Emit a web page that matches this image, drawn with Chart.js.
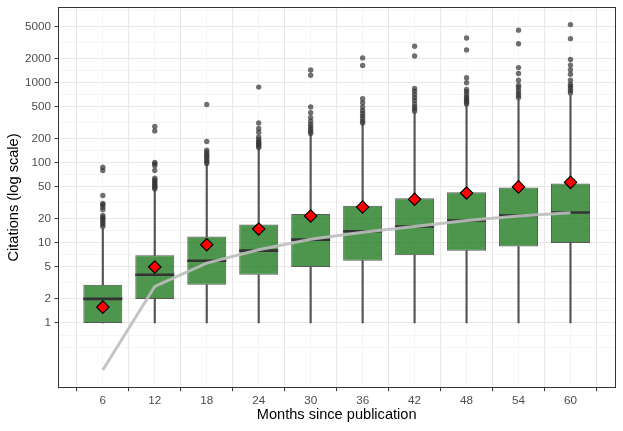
<!DOCTYPE html>
<html>
<head>
<meta charset="utf-8">
<script src="https://cdn.jsdelivr.net/npm/chart.js@4"></script>
<style>
html, body { margin: 0; padding: 0; background: #fff; }
#wrap { width: 623px; height: 431px; }
</style>
</head>
<body>
<div id="wrap"><canvas id="citeChart"></canvas></div>
<script>
// box statistics per month
const months = [6, 12, 18, 24, 30, 36, 42, 48, 54, 60];
const lowWhisker = [1, 1, 1, 1, 1, 1, 1, 1, 1, 1];
const q1 = [1, 2, 3, 4, 5, 6, 7, 8, 9, 10];
const medians = [2, 4, 6, 8, 11, 14, 16, 19, 22, 24];
const q3 = [3, 7, 12, 17, 23, 29, 36, 43, 49, 55];
const upperWhisker = [15, 45, 95, 150, 225, 305, 420, 520, 610, 690];
const means = [1.58, 5.0, 9.5, 14.9, 21.7, 28, 35, 42, 50, 57];
const trend = [0.26, 2.86, 5.6, 8.2, 11.1, 13.6, 16, 19, 21.7, 23.8];
const outliers = [
    [16, 17, 18, 19, 20, 21, 22, 26, 28, 30, 31, 39, 80, 88],
    [47, 49, 51, 53, 56, 58, 61, 64, 80, 92, 97, 101, 250, 284],
    [98, 103, 108, 115, 121, 127, 135, 144, 184, 533],
    [155, 162, 170, 178, 183, 195, 210, 240, 268, 314, 880],
    [232, 245, 260, 280, 300, 330, 366, 420, 497, 1237, 1440],
    [314, 330, 358, 385, 414, 450, 497, 560, 631, 1640, 2036],
    [440, 470, 497, 540, 600, 650, 710, 780, 845, 2150, 2840],
    [540, 570, 600, 630, 660, 710, 770, 820, 995, 1150, 2560, 3600],
    [650, 690, 740, 800, 870, 930, 1070, 1300, 1540, 3060, 4520],
    [744, 790, 845, 900, 955, 1070, 1273, 1450, 1655, 1940, 3540, 5300]
];

const xTicks = [6, 12, 18, 24, 30, 36, 42, 48, 54, 60];
const xMinorTicks = [3, 9, 15, 21, 27, 33, 39, 45, 51, 57, 63];
const yTicks = [1, 2, 5, 10, 20, 50, 100, 200, 500, 1000, 2000, 5000];
const yMinorTicks = [0.5, 0.708, 1.414, 3.162, 7.07, 14.14, 31.62, 70.7, 141.4, 316.2, 707, 1414, 3162, 7906];

const xMin = 0.825, xMax = 65.175;
const yMin = 0.156, yMax = 8710;

const pts = arr => months.map((m, i) => ({x: m, y: arr[i]}));
const outlierPoints = [];
outliers.forEach((list, i) => list.forEach(v => outlierPoints.push({x: months[i], y: v})));

// keep the chart area where the reference has it: no label overflow padding
const noPad = s => { s.paddingTop = 0; s.paddingBottom = 0; s.paddingLeft = 0; s.paddingRight = 0; };

Chart.defaults.font.family = '"Liberation Sans", Arial, Helvetica, sans-serif';

const ctxCite = document.getElementById('citeChart');

new Chart(ctxCite, {
    type: 'bar',
    data: {
        datasets: [
            {
                type: 'line',
                label: 'Mean',
                data: pts(means),
                showLine: false,
                pointStyle: 'rectRot',
                pointRadius: 6.2,
                pointBackgroundColor: '#ff0000',
                pointBorderColor: '#000000',
                pointBorderWidth: 1.2,
                xAxisID: 'x', yAxisID: 'y',
                order: 1
            },
            {
                type: 'line',
                label: 'Trend',
                data: pts(trend),
                borderColor: 'rgba(190,190,190,0.9)',
                borderWidth: 3,
                pointRadius: 0,
                tension: 0,
                xAxisID: 'x', yAxisID: 'y',
                order: 2
            },
            {
                type: 'line',
                label: 'Median',
                data: pts(medians),
                showLine: false,
                pointStyle: 'line',
                pointRadius: 19.5,
                pointBorderColor: '#333333',
                pointBorderWidth: 2.6,
                xAxisID: 'x', yAxisID: 'y',
                order: 3
            },
            {
                type: 'bar',
                label: 'Box',
                data: months.map((m, i) => ({x: m, y: [q1[i], q3[i]]})),
                backgroundColor: 'rgba(10,110,10,0.72)',
                borderColor: 'rgba(51,51,51,0.8)',
                borderWidth: 1,
                borderSkipped: false,
                grouped: false,
                categoryPercentage: 1,
                barPercentage: 0.75,
                xAxisID: 'x', yAxisID: 'y',
                order: 4
            },
            {
                type: 'line',
                label: 'Outliers',
                data: outlierPoints,
                showLine: false,
                pointRadius: 2.7,
                pointBackgroundColor: 'rgba(51,51,51,0.7)',
                pointBorderWidth: 0,
                xAxisID: 'x', yAxisID: 'y',
                order: 5
            },
            {
                type: 'bar',
                label: 'Upper whisker',
                data: months.map((m, i) => ({x: m, y: [q3[i], upperWhisker[i]]})),
                backgroundColor: '#555555',
                barThickness: 1.5,
                grouped: false,
                xAxisID: 'x', yAxisID: 'y',
                order: 6
            },
            {
                type: 'bar',
                label: 'Lower whisker',
                data: months.map((m, i) => ({x: m, y: [lowWhisker[i], q1[i]]})),
                backgroundColor: '#555555',
                barThickness: 1.5,
                grouped: false,
                xAxisID: 'x', yAxisID: 'y',
                order: 6
            }
        ]
    },
    options: {
        responsive: true,
        maintainAspectRatio: false,
        animation: false,
        events: [],
        layout: {
            autoPadding: false,
            padding: {left: 5, top: 7.3, right: 7.7, bottom: 7}
        },
        scales: {
            x: {
                type: 'linear',
                position: 'bottom',
                min: xMin,
                max: xMax,
                offset: false,
                afterBuildTicks: s => { s.ticks = xTicks.map(v => ({value: v})); },
                afterFit: s => { s.height = 36.3; noPad(s); },
                grid: {color: '#e8e8e8', lineWidth: 1.1, tickColor: '#333333', tickLength: 3.5, tickWidth: 1},
                border: {display: true, color: '#333333', width: 1},
                ticks: {
                    color: '#4d4d4d',
                    font: {size: 11.7},
                    padding: 2.5,
                    maxRotation: 0,
                    autoSkip: false,
                    callback: v => String(v)
                },
                title: {
                    display: true,
                    text: 'Months since publication',
                    color: '#000000',
                    font: {size: 14.6},
                    padding: {top: 1, bottom: 0}
                }
            },
            xMinor: {
                type: 'linear',
                position: 'top',
                min: xMin,
                max: xMax,
                offset: false,
                afterBuildTicks: s => { s.ticks = xMinorTicks.map(v => ({value: v})); },
                afterFit: s => { s.height = 0; noPad(s); },
                grid: {color: '#f1f1f1', lineWidth: 0.7, drawTicks: false},
                border: {display: true, color: '#333333', width: 1},
                ticks: {display: false}
            },
            y: {
                type: 'logarithmic',
                position: 'left',
                min: yMin,
                max: yMax,
                afterBuildTicks: s => { s.ticks = yTicks.map(v => ({value: v})); },
                afterFit: s => { s.width = 53; noPad(s); },
                grid: {color: '#e8e8e8', lineWidth: 1.1, tickColor: '#333333', tickLength: 3.5, tickWidth: 1},
                border: {display: true, color: '#333333', width: 1},
                ticks: {
                    color: '#4d4d4d',
                    font: {size: 11.7},
                    padding: 3.5,
                    autoSkip: false,
                    callback: v => String(v)
                },
                title: {
                    display: true,
                    text: 'Citations (log scale)',
                    color: '#000000',
                    font: {size: 14.6},
                    padding: {top: 0, bottom: 0}
                }
            },
            yMinor: {
                type: 'logarithmic',
                position: 'right',
                min: yMin,
                max: yMax,
                afterBuildTicks: s => { s.ticks = yMinorTicks.map(v => ({value: v})); },
                afterFit: s => { s.width = 0; noPad(s); },
                grid: {color: '#f1f1f1', lineWidth: 0.7, drawTicks: false},
                border: {display: true, color: '#333333', width: 1},
                ticks: {display: false}
            }
        },
        plugins: {
            legend: {display: false},
            tooltip: {enabled: false}
        }
    }
});
</script>
</body>
</html>
